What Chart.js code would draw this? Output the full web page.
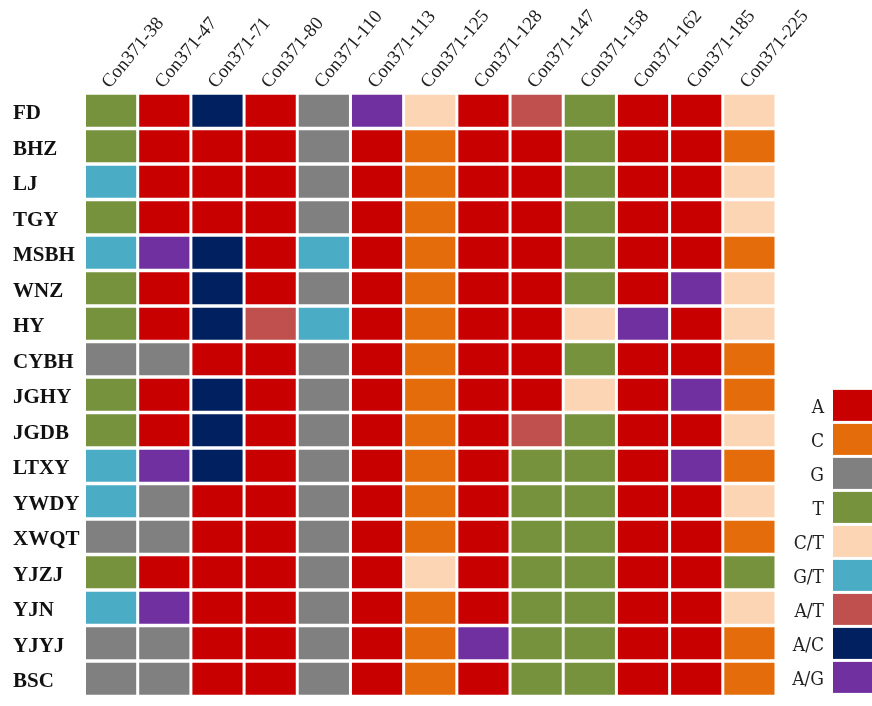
<!DOCTYPE html>
<html>
<head>
<meta charset="utf-8">
<script src="https://cdn.jsdelivr.net/npm/chart.js@4.4.1/dist/chart.umd.min.js"></script>
<style>
  html, body { margin: 0; padding: 0; background: #fff; overflow: hidden; }
  #wrap { width: 872px; height: 706px; overflow: hidden; }
  canvas { display: block; }
</style>
</head>
<body>
<div id="wrap"><canvas id="c" width="872" height="712"></canvas></div>
<script>
// SNP markers (columns)
const markers = ['Con371-38', 'Con371-47', 'Con371-71', 'Con371-80', 'Con371-110', 'Con371-113',
  'Con371-125', 'Con371-128', 'Con371-147', 'Con371-158', 'Con371-162', 'Con371-185', 'Con371-225'];

// Cultivars (rows), top to bottom
const cultivars = ['FD', 'BHZ', 'LJ', 'TGY', 'MSBH', 'WNZ', 'HY', 'CYBH', 'JGHY', 'JGDB',
  'LTXY', 'YWDY', 'XWQT', 'YJZJ', 'YJN', 'YJYJ', 'BSC'];

// Genotype key and colours
const genotypeCodes  = ['A', 'C', 'G', 'T', 'C/T', 'G/T', 'A/T', 'A/C', 'A/G'];
const genotypeColors = ['#C80000', '#E46C0A', '#808080', '#76923C', '#FCD5B5', '#4BACC6', '#C0504D', '#002060', '#7030A0'];

// Genotype calls per cultivar, one entry per marker
const FD   = ['T', 'A', 'A/C', 'A', 'G', 'A/G', 'C/T', 'A', 'A/T', 'T', 'A', 'A', 'C/T'];
const BHZ  = ['T', 'A', 'A', 'A', 'G', 'A', 'C', 'A', 'A', 'T', 'A', 'A', 'C'];
const LJ   = ['G/T', 'A', 'A', 'A', 'G', 'A', 'C', 'A', 'A', 'T', 'A', 'A', 'C/T'];
const TGY  = ['T', 'A', 'A', 'A', 'G', 'A', 'C', 'A', 'A', 'T', 'A', 'A', 'C/T'];
const MSBH = ['G/T', 'A/G', 'A/C', 'A', 'G/T', 'A', 'C', 'A', 'A', 'T', 'A', 'A', 'C'];
const WNZ  = ['T', 'A', 'A/C', 'A', 'G', 'A', 'C', 'A', 'A', 'T', 'A', 'A/G', 'C/T'];
const HY   = ['T', 'A', 'A/C', 'A/T', 'G/T', 'A', 'C', 'A', 'A', 'C/T', 'A/G', 'A', 'C/T'];
const CYBH = ['G', 'G', 'A', 'A', 'G', 'A', 'C', 'A', 'A', 'T', 'A', 'A', 'C'];
const JGHY = ['T', 'A', 'A/C', 'A', 'G', 'A', 'C', 'A', 'A', 'C/T', 'A', 'A/G', 'C'];
const JGDB = ['T', 'A', 'A/C', 'A', 'G', 'A', 'C', 'A', 'A/T', 'T', 'A', 'A', 'C/T'];
const LTXY = ['G/T', 'A/G', 'A/C', 'A', 'G', 'A', 'C', 'A', 'T', 'T', 'A', 'A/G', 'C'];
const YWDY = ['G/T', 'G', 'A', 'A', 'G', 'A', 'C', 'A', 'T', 'T', 'A', 'A', 'C/T'];
const XWQT = ['G', 'G', 'A', 'A', 'G', 'A', 'C', 'A', 'T', 'T', 'A', 'A', 'C'];
const YJZJ = ['T', 'A', 'A', 'A', 'G', 'A', 'C/T', 'A', 'T', 'T', 'A', 'A', 'T'];
const YJN  = ['G/T', 'A/G', 'A', 'A', 'G', 'A', 'C', 'A', 'T', 'T', 'A', 'A', 'C/T'];
const YJYJ = ['G', 'G', 'A', 'A', 'G', 'A', 'C', 'A/G', 'T', 'T', 'A', 'A', 'C'];
const BSC  = ['G', 'G', 'A', 'A', 'G', 'A', 'C', 'A', 'T', 'T', 'A', 'A', 'C'];

const rowCalls = [FD, BHZ, LJ, TGY, MSBH, WNZ, HY, CYBH, JGHY, JGDB, LTXY, YWDY, XWQT, YJZJ, YJN, YJYJ, BSC];

const colorOf = code => genotypeColors[genotypeCodes.indexOf(code)];

// Each cultivar is a row of floating bars spanning one unit on the y axis
const datasets = cultivars.map((name, r) => ({
  label: name,
  data: rowCalls[r].map(() => [r - 0.5, r + 0.5]),
  backgroundColor: rowCalls[r].map(colorOf),
  borderColor: '#ffffff',
  borderWidth: { top: 1.75, bottom: 1.75, left: 1.5, right: 1.5 },
  borderSkipped: false,
  inflateAmount: 0,
  grouped: false,
  barPercentage: 1,
  categoryPercentage: 1
}));

// Genotype key drawn to the right of the grid
const genotypeKey = {
  id: 'genotypeKey',
  afterDraw(chart, args, o) {
    const { ctx, chartArea } = chart;
    const n = genotypeCodes.length;
    const left = chartArea.right + o.gap;
    const h = o.pitch - o.spacing;
    ctx.save();
    ctx.font = o.font;
    ctx.textAlign = 'right';
    ctx.textBaseline = 'middle';
    genotypeCodes.forEach((code, i) => {
      const top = chartArea.bottom - o.bottomInset - (n - i) * o.pitch + o.spacing / 2;
      ctx.fillStyle = genotypeColors[i];
      ctx.fillRect(left, top, o.boxWidth, h);
      ctx.fillStyle = o.color;
      ctx.fillText(code, left - o.textGap, top + h / 2 + 3);
    });
    ctx.restore();
  }
};

new Chart(document.getElementById('c'), {
  type: 'bar',
  data: { labels: markers, datasets },
  options: {
    responsive: false,
    animation: false,
    events: [],
    layout: { padding: { left: 13, right: 96, top: 0, bottom: 0 } },
    plugins: {
      legend: { display: false },
      tooltip: { enabled: false },
      genotypeKey: {
        gap: 57, boxWidth: 42, pitch: 34, spacing: 3, bottomInset: 2, textGap: 9,
        font: "19px 'DejaVu Serif Condensed', 'DejaVu Serif', serif", color: '#222'
      }
    },
    scales: {
      x: {
        type: 'category',
        position: 'top',
        offset: true,
        grid: { display: false, drawTicks: false },
        border: { display: false },
        ticks: {
          autoSkip: false,
          minRotation: 50,
          maxRotation: 50,
          padding: 0,
          labelOffset: 12,
          color: '#222',
          font: { family: "'Liberation Serif', serif", size: 19 }
        },
        afterFit(scale) { scale.height = 93; }
      },
      y: {
        type: 'linear',
        reverse: true,
        min: -0.5,
        max: 16.5,
        grid: { display: false, drawTicks: false },
        border: { display: false },
        afterBuildTicks(scale) { scale.ticks = cultivars.map((_, i) => ({ value: i })); },
        afterFit(scale) { scale.width = 71.5; },
        ticks: {
          crossAlign: 'far',
          labelOffset: 3,
          color: '#111',
          font: { family: "'Liberation Serif', serif", size: 21, weight: 'bold' },
          callback: value => cultivars[value]
        }
      }
    }
  },
  plugins: [genotypeKey]
});
</script>
</body>
</html>
